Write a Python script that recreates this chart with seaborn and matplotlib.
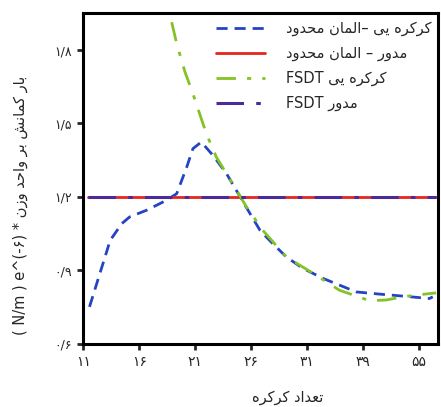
import matplotlib
matplotlib.use("Agg")
import matplotlib.pyplot as plt
import numpy as np
import seaborn as sns

# Persian glyph forms: isolated, final, initial, medial
FORMS = {
    'ا': ('\uFE8D', '\uFE8E', None, None),
    'ب': ('\uFE8F', '\uFE90', '\uFE91', '\uFE92'),
    'ت': ('\uFE95', '\uFE96', '\uFE97', '\uFE98'),
    'ح': ('\uFEA1', '\uFEA2', '\uFEA3', '\uFEA4'),
    'د': ('\uFEA9', '\uFEAA', None, None),
    'ر': ('\uFEAD', '\uFEAE', None, None),
    'ز': ('\uFEAF', '\uFEB0', None, None),
    'ش': ('\uFEB5', '\uFEB6', '\uFEB7', '\uFEB8'),
    'ع': ('\uFEC9', '\uFECA', '\uFECB', '\uFECC'),
    'ل': ('\uFEDD', '\uFEDE', '\uFEDF', '\uFEE0'),
    'م': ('\uFEE1', '\uFEE2', '\uFEE3', '\uFEE4'),
    'ن': ('\uFEE5', '\uFEE6', '\uFEE7', '\uFEE8'),
    'ه': ('\uFEE9', '\uFEEA', '\uFEEB', '\uFEEC'),
    'و': ('\uFEED', '\uFEEE', None, None),
    'ک': ('\uFB8E', '\uFB8F', '\uFB90', '\uFB91'),
    'ی': ('\uFBFC', '\uFBFD', '\uFBFE', '\uFBFF'),
}


def fa(s):
    out = []
    for i, c in enumerate(s):
        if c not in FORMS:
            out.append(c)
            continue
        prev = s[i - 1] if i > 0 else ''
        nxt = s[i + 1] if i + 1 < len(s) else ''
        jp = prev in FORMS and FORMS[prev][2] is not None
        jn = FORMS[c][2] is not None and nxt in FORMS
        iso, fin, ini, med = FORMS[c]
        if jp and jn:
            out.append(med)
        elif jp:
            out.append(fin)
        elif jn:
            out.append(ini)
        else:
            out.append(iso)
    return ''.join(out)[::-1]


# data (x in category-tick units)
fe_shutter_x = [0.11, 0.48, 0.69, 0.83, 1.13, 1.49, 1.67, 1.85, 1.96, 2.11, 2.32,
                2.56, 2.74, 2.92, 3.16, 3.33, 3.63, 3.93, 4.29, 4.58, 4.88, 5.30,
                5.71, 6.19, 6.25]
fe_shutter_y = [0.750, 1.022, 1.091, 1.118, 1.145, 1.186, 1.213, 1.322, 1.397, 1.424,
                1.369, 1.295, 1.225, 1.155, 1.063, 1.022, 0.954, 0.907, 0.866, 0.839,
                0.811, 0.802, 0.794, 0.784, 0.791]
fsdt_shutter_x = [1.58, 1.67, 1.82, 1.94, 2.20, 2.38, 2.74, 2.92, 3.21, 3.63, 4.11,
                  4.58, 5.12, 5.42, 5.71, 5.95, 6.31]
fsdt_shutter_y = [1.914, 1.826, 1.709, 1.635, 1.458, 1.362, 1.227, 1.158, 1.063, 0.954,
                  0.887, 0.818, 0.775, 0.778, 0.791, 0.798, 0.807]
circ_x = [0.08, 6.31]
fe_circ_y = [1.2, 1.2]
fsdt_circ_y = [1.2, 1.2]

x_ticklabels = ['۱۱', '۱۶', '۲۱', '۲۶', '۳۱', '۳۹', '۵۵']
y_ticks = [0.6, 0.9, 1.2, 1.5, 1.8]
y_ticklabels = ['۰/۶', '۰/۹', '۱/۲', '۱/۵', '۱/۸']

labels = [
    fa('کرکره یی –المان محدود'),
    fa('مدور – المان محدود'),
    'FSDT ' + fa('کرکره یی'),
    'FSDT ' + fa('مدور'),
]

sns.set_style("ticks")
plt.rcParams['font.family'] = ['DejaVu Sans']

fig = plt.figure(figsize=(4.41, 4.07), dpi=100)
ax = fig.add_axes([0.189, 0.156, 0.805, 0.811])

sns.lineplot(x=fe_shutter_x, y=fe_shutter_y, ax=ax, color='#2444c4', lw=2,
             sort=False, label=labels[0])
ax.lines[-1].set_dashes([4, 2.5])
sns.lineplot(x=circ_x, y=fe_circ_y, ax=ax, color='#e3261f', lw=2, label=labels[1])
sns.lineplot(x=fsdt_shutter_x, y=fsdt_shutter_y, ax=ax, color='#84c225', lw=2,
             sort=False, label=labels[2])
ax.lines[-1].set_dashes([7, 4, 1.5, 4])
sns.lineplot(x=circ_x, y=fsdt_circ_y, ax=ax, color='#4b2a9a', lw=2.2, label=labels[3])
ax.lines[-1].set_dashes([9, 4, 1.5, 4])

ax.set_xlim(0, 6.35)
ax.set_ylim(0.6, 1.95)
ax.set_xticks(range(len(x_ticklabels)))
ax.set_xticklabels(x_ticklabels, fontsize=10)
ax.set_yticks(y_ticks)
ax.set_yticklabels(y_ticklabels, fontsize=9)
ax.tick_params(direction='out', length=4, width=2, pad=4)

for sp in ax.spines.values():
    sp.set_visible(True)
    sp.set_linewidth(2.2)
    sp.set_color('black')

ax.set_xlabel(fa('تعداد کرکره'), fontsize=10.5)
ax.xaxis.set_label_coords(0.575, -0.14)
ax.set_ylabel('( N/m ) e^(-۶) * ' + fa('بار کمانش بر واحد وزن'), fontsize=10.5)
ax.yaxis.set_label_coords(-0.155, 0.42)

ax.legend(loc='upper right', frameon=False, fontsize=10.5, handlelength=3.4,
          borderaxespad=0.1, labelspacing=0.68, handletextpad=1.4)

fig.savefig('out.png', dpi=100)
